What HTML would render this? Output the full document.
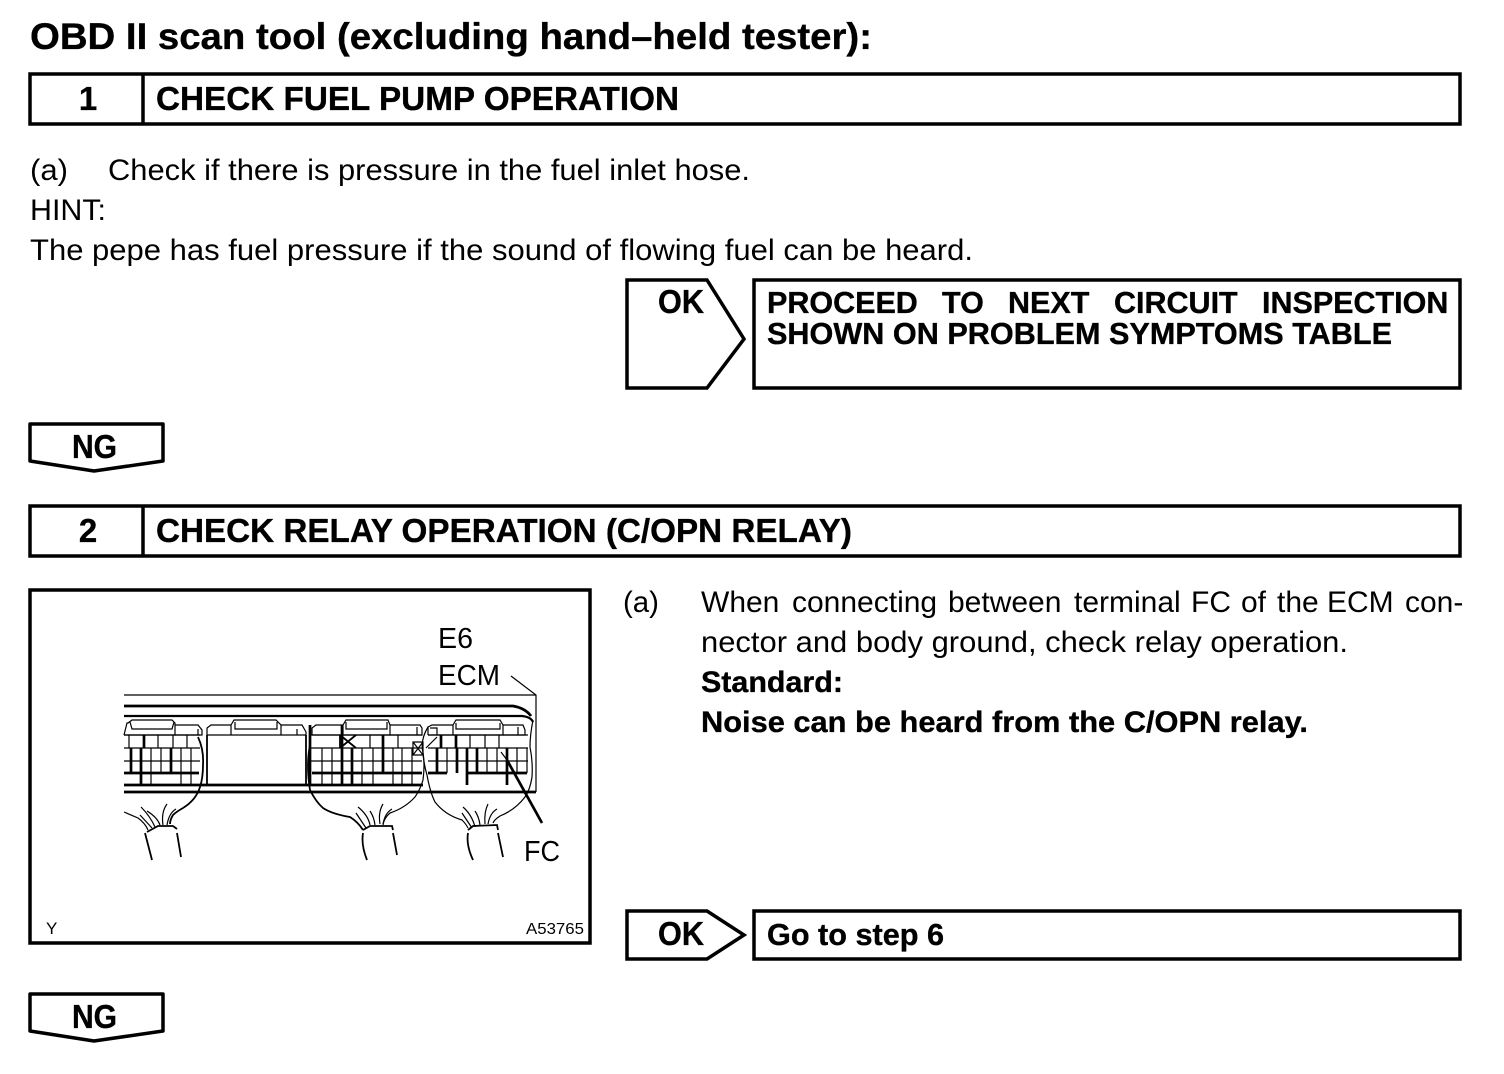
<!DOCTYPE html>
<html><head><meta charset="utf-8"><style>
html,body{margin:0;padding:0;background:#fff}
svg{display:block}
text{font-family:"Liberation Sans",Arial,sans-serif;fill:#000}
.b{font-weight:bold;stroke:#000;stroke-width:.35}
.t{font-size:30px}
.h{font-size:33px;font-weight:bold;stroke:#000;stroke-width:.35}
.p{font-size:30.5px}
.box{fill:none;stroke:#000;stroke-width:3.5}
.d path{fill:none;stroke:#000;stroke-width:1.2}
.d .k{stroke-width:2.7}
.d .m{stroke-width:1.8}
</style></head><body>
<svg width="1504" height="1074" viewBox="0 0 1504 1074" xmlns="http://www.w3.org/2000/svg">
<text x="30" y="49" class="b" font-size="37" textLength="842" lengthAdjust="spacingAndGlyphs">OBD II scan tool (excluding hand–held tester):</text>

<rect class="box" x="30" y="74" width="1430" height="50"/>
<line x1="143" y1="74" x2="143" y2="124" stroke="#000" stroke-width="3.5"/>
<text x="88" y="110" class="h" text-anchor="middle">1</text>
<text x="156" y="110" class="h" textLength="523" lengthAdjust="spacingAndGlyphs">CHECK FUEL PUMP OPERATION</text>

<text x="30" y="180" class="t" textLength="38" lengthAdjust="spacingAndGlyphs">(a)</text>
<text x="108" y="180" class="t" textLength="642" lengthAdjust="spacingAndGlyphs">Check if there is pressure in the fuel inlet hose.</text>
<text x="30" y="220" class="t" textLength="76" lengthAdjust="spacingAndGlyphs">HINT:</text>
<text x="30" y="260" class="t" textLength="943" lengthAdjust="spacingAndGlyphs">The pepe has fuel pressure if the sound of flowing fuel can be heard.</text>

<path class="box" d="M627 280H707L744 339L707 388H627Z"/>
<text x="658" y="313" class="h" textLength="46" lengthAdjust="spacingAndGlyphs">OK</text>
<rect class="box" x="754" y="280" width="706" height="108"/>
<text y="313" class="h p"><tspan x="767">PROCEED</tspan><tspan x="942">TO</tspan><tspan x="1008">NEXT</tspan><tspan x="1114">CIRCUIT</tspan><tspan x="1262">INSPECTION</tspan></text>
<text x="767" y="344" class="h p" textLength="625" lengthAdjust="spacingAndGlyphs">SHOWN ON PROBLEM SYMPTOMS TABLE</text>

<path class="box" d="M30 424H163V461L94 471L30 461Z" style="stroke-linejoin:round"/>
<text x="72" y="458" class="h" textLength="45" lengthAdjust="spacingAndGlyphs">NG</text>

<rect class="box" x="30" y="506" width="1430" height="50"/>
<line x1="143" y1="506" x2="143" y2="556" stroke="#000" stroke-width="3.5"/>
<text x="88" y="542" class="h" text-anchor="middle">2</text>
<text x="156" y="542" class="h" textLength="696" lengthAdjust="spacingAndGlyphs">CHECK RELAY OPERATION (C/OPN RELAY)</text>

<rect class="box" x="30" y="590" width="560" height="353"/>
<text x="438" y="648" font-size="29" textLength="35" lengthAdjust="spacingAndGlyphs">E6</text>
<text x="438" y="685" font-size="29" textLength="62" lengthAdjust="spacingAndGlyphs">ECM</text>
<text x="524" y="861" font-size="29" textLength="36" lengthAdjust="spacingAndGlyphs">FC</text>
<text x="46" y="934" font-size="17">Y</text>
<text x="526" y="934" font-size="15.5" textLength="58" lengthAdjust="spacingAndGlyphs">A53765</text>

<g class="d">
<!-- housing -->
<path d="M511 676L536 695V792"/>
<path d="M124 695H536"/>
<path class="k" d="M124 706H513Q525 708 531 716"/>
<path class="k" d="M124 716H522Q531 717 533 722" style="stroke-width:2.2"/>
<path class="k" d="M124 785H423"/>
<path class="k" d="M124 792H536"/>
<!-- connector tops -->
<path d="M124 735L127 723H128L132 720H172L175 723V735H124M130 722L132 729H172L174 722"/>
<path d="M175 725H198L202 730V735H175M198 729V735"/>
<path d="M207 735V728L211 725H231V735H207M231 725L234 720H276L281 725V735H231M235 722V729H277V722"/>
<path d="M281 725H302L306 732V735H281M297 729V735"/>
<path class="m" d="M207 735V785M306 735V785"/>
<path d="M312 735V728L316 725H343V735H312M343 725L346 720H388L390 725V735H343M346 722V729H387V722"/>
<path d="M390 725H420L422 728V735H390M417 727V735"/>
<path d="M428 735V727L432 725H453V735H428M453 725L456 720H500L503 725V735H453M456 723V729H500V723"/>
<path d="M503 725H523L525 730V735H503M518 727V735M430 728H437V735"/>
<!-- grid 1 -->
<path d="M124 735H200M124 748H200M124 761H200M129 735V748M158 735V748M173 735V748M187 735V748"/>
<path d="M151 748V785M161 748V773M181 748V785M191 748V785"/>
<path class="k" d="M144 735V748M131 748V773M141 748V785M171 748V773M124 773H199"/>
<!-- grid 2 -->
<path d="M311 735H422M311 748H422M311 761H422M370 735V748M398 735V748M322 748V785M332 748V785M362 748V785M373 748V785M393 748V785M402 748V785M412 748V785"/>
<path class="k" d="M310 725V785M342 725V785M352 748V785M383 735V773M312 773H422"/>
<!-- grid 3 -->
<path d="M428 735H528M428 748H528M428 761H528M470 735V748M485 735V748M499 735V748M447 748V773M487 748V773M497 748V773M517 748V773M527 748V773"/>
<path class="k" d="M441 735V748M456 735V748M437 748V773M457 748V773M467 748V785M477 748V773M507 748V785M428 773H447M467 773H527"/>
<!-- X marks -->
<path class="m" d="M340 735V748M340 735L356 748M340 748L356 735"/>
<path d="M413 742H423V755H413ZM413 742L423 755M413 755L423 742"/>
<!-- harness curves -->
<path class="m" d="M198 737Q204 750 203 765Q203 778 200 787Q196 800 183 808Q176 812 173 815Q170 820 170 824"/>
<path class="m" d="M310 790Q316 802 323 808Q332 814 350 817Q358 822 363 830"/>
<path class="m" d="M310 745Q306 765 310 790"/>
<path d="M428 727Q420 740 423 753Q424 765 427 775Q430 792 435 802Q445 815 462 820Q466 824 468 828"/>
<path d="M423 753Q425 765 423 780Q420 790 415 797Q405 808 390 813Q384 818 383 825"/>
<path d="M533 720Q530 735 530 747Q533 762 532 777Q530 790 525 797Q515 810 500 816Q494 820 493 823"/>
<path d="M426 748L437 737"/>
<!-- FC leader -->
<path d="M501 752L507 760"/>
<path class="k" d="M507 760L542 823"/>
<!-- cables -->
<path class="m" d="M147 832L158 826H173L177 829M145 833L152 860M177 833L181 857"/>
<path d="M124 812L138 818Q145 823 148 830M140 815L152 828M141 807Q150 816 155 827M147 811Q157 817 160 825M167 804Q161 812 163 825M176 809Q169 813 167 825"/>
<path class="m" d="M363 830L370 826H392L393 830M363 833Q361 845 367 860M393 833L397 855"/>
<path d="M356 813L366 828M358 807Q368 815 370 825M370 811Q374 817 375 825M383 804Q378 812 380 824M392 809Q385 813 383 824"/>
<path class="m" d="M468 830L473 826L497 825L498 830M468 833Q466 845 473 860M498 833L503 857"/>
<path d="M462 813L472 828M463 807Q472 815 475 827M475 811Q479 817 480 825M488 804Q484 812 485 824M497 809Q490 813 488 824"/>
</g>

<text x="623" y="612" class="t" textLength="36" lengthAdjust="spacingAndGlyphs">(a)</text>
<text y="612" class="t"><tspan x="701">When</tspan><tspan x="792">connecting</tspan><tspan x="948">between</tspan><tspan x="1074">terminal</tspan><tspan x="1191">FC</tspan><tspan x="1241">of</tspan><tspan x="1277">the</tspan><tspan x="1327">ECM</tspan><tspan x="1405">con-</tspan></text>
<text x="701" y="652" class="t" textLength="647" lengthAdjust="spacingAndGlyphs">nector and body ground, check relay operation.</text>
<text x="701" y="692" class="t b" textLength="142" lengthAdjust="spacingAndGlyphs">Standard:</text>
<text x="701" y="732" class="t b" textLength="607" lengthAdjust="spacingAndGlyphs">Noise can be heard from the C/OPN relay.</text>

<path class="box" d="M627 911H707L744 935L707 959H627Z"/>
<text x="658" y="945" class="h" textLength="46" lengthAdjust="spacingAndGlyphs">OK</text>
<rect class="box" x="754" y="911" width="706" height="48"/>
<text x="767" y="945" class="h p" textLength="177" lengthAdjust="spacingAndGlyphs">Go to step 6</text>

<path class="box" d="M30 994H163V1031L94 1041L30 1031Z" style="stroke-linejoin:round"/>
<text x="72" y="1028" class="h" textLength="45" lengthAdjust="spacingAndGlyphs">NG</text>
</svg>
</body></html>
